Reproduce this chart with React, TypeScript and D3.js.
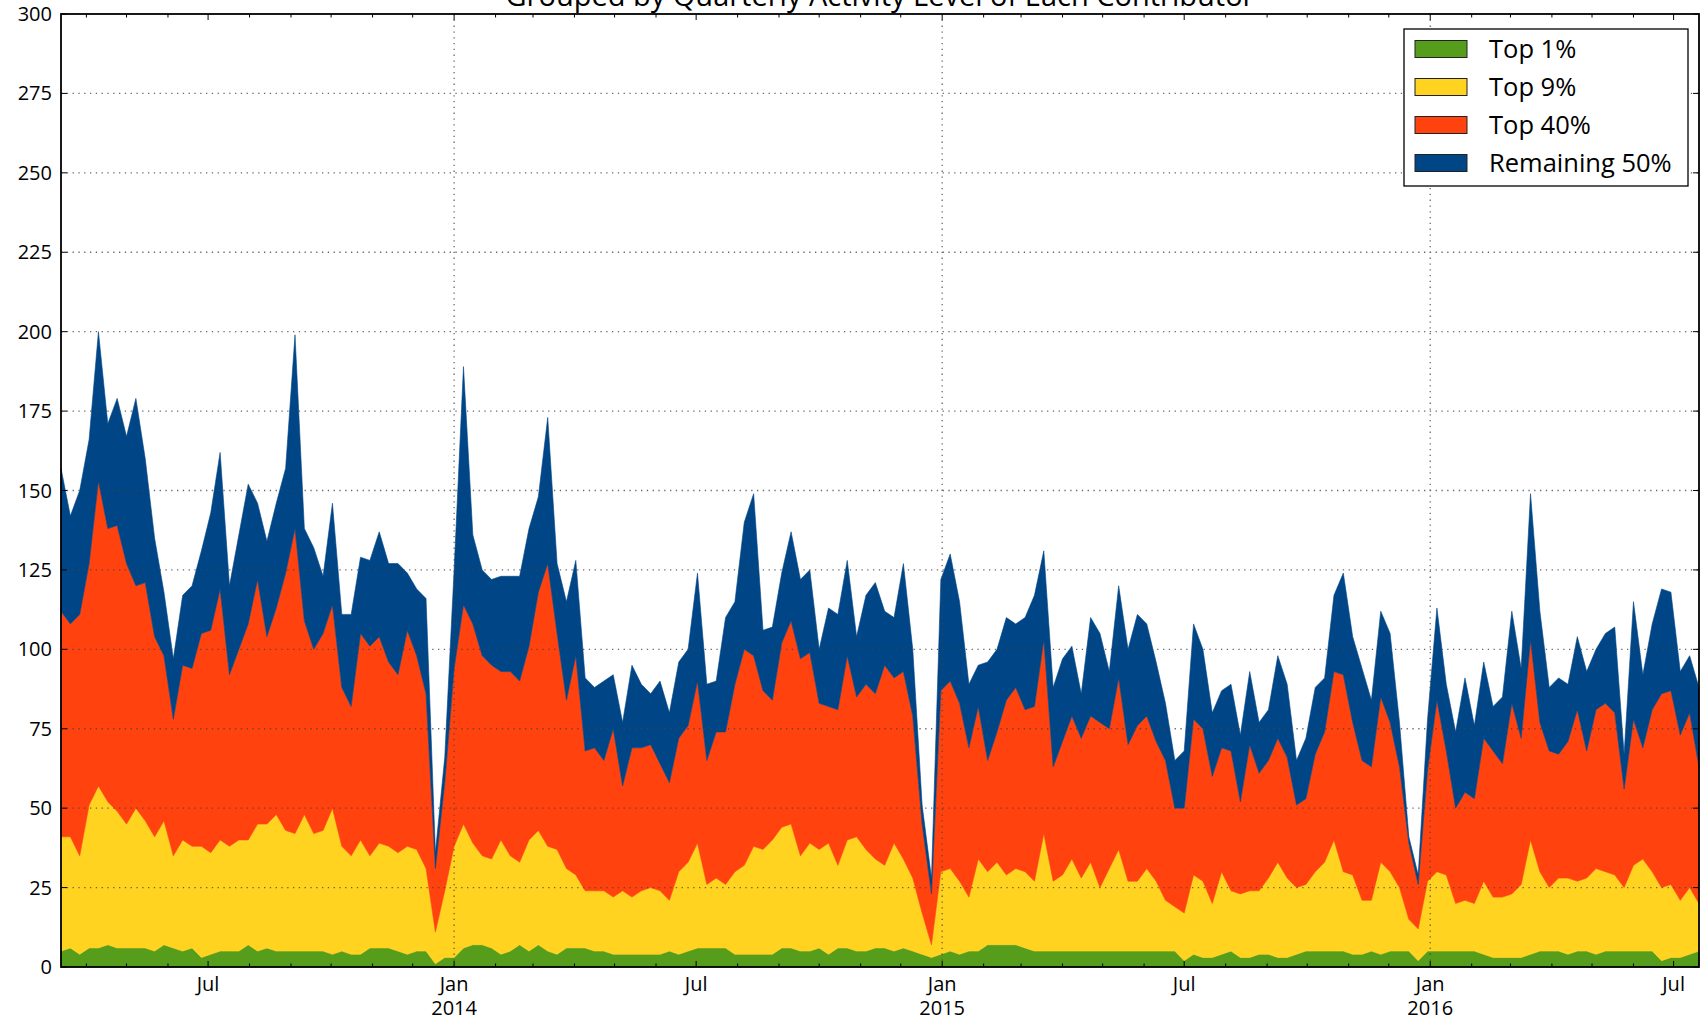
import React from "react";
import * as d3 from "d3";

const title = "Grouped by Quarterly Activity Level of Each Contributor";
const firstWeek = "2013-03-13";

const top1 = [5,6,4,6,6,7,6,6,6,6,5,7,6,5,6,3,4,5,5,5,7,5,6,5,5,5,5,5,5,4,5,4,4,6,6,6,5,4,5,5,1,3,3,6,7,7,6,4,5,7,5,7,5,4,6,6,6,5,5,4,4,4,4,4,4,5,4,5,6,6,6,6,4,4,4,4,4,6,6,5,5,6,4,6,6,5,5,6,6,5,6,5,4,3,4,5,4,5,5,7,7,7,7,6,5,5,5,5,5,5,5,5,5,5,5,5,5,5,5,5,2,4,3,3,4,5,3,3,4,4,3,3,4,5,5,5,5,5,4,4,5,4,5,5,5,2,5,5,5,5,5,5,4,3,3,3,3,4,5,5,5,4,5,5,4,5,5,5,5,5,5,2,3,3,4,5];
const top9 = [36,35,31,45,51,45,43,39,44,40,36,39,29,35,32,35,32,35,33,35,33,40,39,43,38,37,43,37,38,46,33,31,36,29,33,32,31,34,32,26,10,21,35,39,32,28,28,36,30,26,35,36,33,33,25,23,18,19,19,18,20,18,20,21,20,16,26,28,33,20,22,20,26,28,34,33,36,38,39,30,34,31,35,26,34,36,32,28,26,34,28,23,13,4,26,26,23,17,29,23,26,22,24,24,22,37,22,24,29,23,28,20,26,32,22,22,26,22,16,14,15,25,24,17,26,19,20,21,20,24,30,25,21,21,25,28,35,25,25,17,16,29,25,20,10,10,22,25,24,15,16,15,23,19,19,20,23,36,25,20,23,24,22,23,27,25,24,20,27,29,25,23,23,18,21,15];
const top40 = [71,67,76,76,96,86,90,82,70,75,63,52,43,55,56,67,70,79,54,60,68,77,59,65,81,96,61,58,62,64,50,47,65,66,65,58,56,68,61,55,20,34,56,69,69,63,61,53,58,57,61,75,89,68,53,69,44,45,41,53,33,47,45,45,40,37,42,43,51,39,46,48,59,68,60,50,44,58,64,62,60,46,43,49,58,44,52,52,63,52,59,51,28,16,57,59,56,47,48,35,41,55,57,51,55,61,36,42,45,44,46,52,44,54,43,49,48,44,44,31,33,49,48,40,39,44,29,46,37,37,39,38,26,27,37,41,53,62,48,44,42,52,47,38,24,14,35,54,39,30,34,33,45,46,42,60,46,63,47,43,39,43,54,40,50,53,51,31,46,35,51,61,61,52,55,43];
const remaining50 = [45,34,39,39,47,33,40,40,59,39,31,20,19,22,26,26,37,43,28,36,44,24,30,33,33,61,29,32,18,32,23,29,24,27,33,31,35,18,21,30,5,8,31,75,28,27,27,30,30,33,37,30,46,22,31,30,23,19,25,17,20,26,20,16,26,22,24,24,34,24,16,36,26,40,51,19,23,22,28,25,26,17,31,30,30,19,28,35,17,19,34,21,6,5,35,40,32,20,13,31,26,26,20,29,35,28,25,26,22,14,31,28,18,29,30,35,29,25,18,15,18,30,25,20,18,21,21,23,16,16,26,23,14,19,21,17,24,32,27,29,21,27,28,14,2,3,16,29,21,24,36,23,24,14,21,29,22,46,35,20,24,18,23,25,19,22,27,11,37,23,27,33,31,20,18,25];

const seriesKeys = ["top1", "top9", "top40", "remaining50"];
const seriesLabels = ["Top 1%", "Top 9%", "Top 40%", "Remaining 50%"];
const seriesColors = ["#579d1c", "#ffd320", "#ff420e", "#004586"];
const yTicks = [0, 25, 50, 75, 100, 125, 150, 175, 200, 225, 250, 275, 300];
const xLabels = [
  { date: "2013-07-01", lines: ["Jul"] },
  { date: "2014-01-01", lines: ["Jan", "2014"] },
  { date: "2014-07-01", lines: ["Jul"] },
  { date: "2015-01-01", lines: ["Jan", "2015"] },
  { date: "2015-07-01", lines: ["Jul"] },
  { date: "2016-01-01", lines: ["Jan", "2016"] },
  { date: "2016-07-01", lines: ["Jul"] },
];
const yearGrid = ["2014-01-01", "2015-01-01", "2016-01-01"];

const W = 1700;
const H = 1022;
const L = 61;
const R = 1699;
const T = 14;
const B = 967;
const FONT = "'Open Sans', 'DejaVu Sans', sans-serif";

export default function App() {
  const start = new Date(firstWeek + "T00:00:00Z");
  const rows = top1.map((v, i) => ({
    date: d3.utcDay.offset(start, 7 * i),
    top1: v,
    top9: top9[i],
    top40: top40[i],
    remaining50: remaining50[i],
  }));
  const x = d3
    .scaleUtc()
    .domain([rows[0].date, rows[rows.length - 1].date])
    .range([L, R]);
  const y = d3.scaleLinear().domain([0, 300]).range([B, T]);
  const stacked = d3.stack<any>().keys(seriesKeys)(rows);
  const area = d3
    .area<any>()
    .x((d) => x(d.data.date))
    .y0((d) => y(d[0]))
    .y1((d) => y(d[1]));

  const months = d3.utcMonth.range(x.domain()[0], x.domain()[1]);
  const isMajor = (d: Date) => d.getUTCMonth() === 0 || d.getUTCMonth() === 6;

  return (
    <div style={{ position: "absolute", left: 0, top: 0 }}>
      <svg width={W} height={H} style={{ display: "block", background: "#fff" }}>
        <rect x={0} y={0} width={W} height={H} fill="#fff" />
        <text
          x={880}
          y={6}
          textAnchor="middle"
          fontFamily={FONT}
          fontSize={29}
          fill="#000"
        >
          {title}
        </text>
        <g>
          {stacked.map((s, k) => (
            <path
              key={seriesKeys[k]}
              d={area(s) || ""}
              fill={seriesColors[k]}
              stroke={seriesColors[k]}
              strokeWidth={0.6}
            />
          ))}
        </g>
        <g stroke="#444" strokeWidth={1.3} strokeDasharray="1.3,4.5" opacity={0.8}>
          {yTicks.slice(1, -1).map((t) => (
            <line key={"gy" + t} x1={L} x2={R} y1={y(t)} y2={y(t)} />
          ))}
          {yearGrid.map((g) => {
            const gx = x(new Date(g + "T00:00:00Z"));
            return <line key={"gx" + g} x1={gx} x2={gx} y1={T} y2={B} />;
          })}
        </g>
        <g stroke="#000" strokeWidth={1}>
          {months.map((m) => {
            const mx = x(m);
            const len = isMajor(m) ? 6 : 3.5;
            return (
              <g key={"mt" + m.toISOString()}>
                <line x1={mx} x2={mx} y1={B} y2={B - len} />
                <line x1={mx} x2={mx} y1={T} y2={T + len} />
              </g>
            );
          })}
          {yTicks.map((t) => (
            <g key={"yt" + t}>
              <line x1={L} x2={L + 6} y1={y(t)} y2={y(t)} />
              <line x1={R} x2={R - 6} y1={y(t)} y2={y(t)} />
            </g>
          ))}
        </g>
        <rect
          x={L}
          y={T}
          width={R - L}
          height={B - T}
          fill="none"
          stroke="#000"
          strokeWidth={1.8}
        />
        <g fontFamily={FONT} fontSize={20} fill="#000" textAnchor="end">
          {yTicks.map((t) => (
            <text key={"yl" + t} x={52} y={y(t) + 7}>
              {t}
            </text>
          ))}
        </g>
        <g fontFamily={FONT} fontSize={20} fill="#000" textAnchor="middle">
          {xLabels.map((l) => {
            const lx = x(new Date(l.date + "T00:00:00Z"));
            return (
              <text key={"xl" + l.date} x={lx} y={991}>
                {l.lines.map((ln, j) => (
                  <tspan key={j} x={lx} dy={j === 0 ? 0 : 24}>
                    {ln}
                  </tspan>
                ))}
              </text>
            );
          })}
        </g>
        <g>
          <rect x={1404} y={29} width={284} height={157} fill="#fff" stroke="#000" strokeWidth={1.3} />
          {seriesLabels.map((lab, k) => {
            const cy = 49 + k * 38;
            return (
              <g key={"lg" + k}>
                <rect
                  x={1415}
                  y={cy - 8.5}
                  width={52}
                  height={17}
                  fill={seriesColors[k]}
                  stroke="#222"
                  strokeWidth={1}
                />
                <text x={1489} y={cy + 8.5} fontFamily={FONT} fontSize={25.5} fill="#000">
                  {lab}
                </text>
              </g>
            );
          })}
        </g>
      </svg>
    </div>
  );
}
